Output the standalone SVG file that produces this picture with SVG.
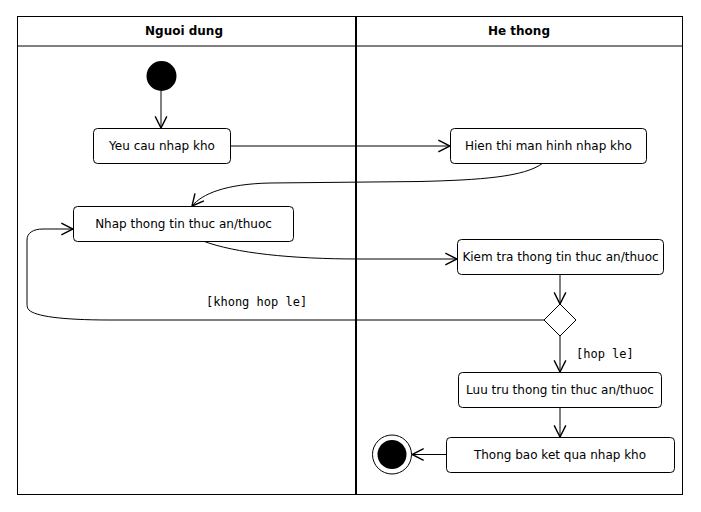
<svg xmlns="http://www.w3.org/2000/svg" width="701" height="512" viewBox="0 0 701 512">
<style>
.lane{fill:none;stroke:#000;stroke-width:1}
.hdr{font-family:"DejaVu Sans",sans-serif;font-size:12px;font-weight:bold;text-anchor:middle;fill:#000}
.box{fill:#fff;stroke:#000;stroke-width:1}
.lbl{font-family:"DejaVu Sans",sans-serif;font-size:12px;text-anchor:middle;fill:#000}
.grd{font-family:"DejaVu Sans Mono",monospace;font-size:12px;fill:#000}
.edge{fill:none;stroke:#000;stroke-width:1;marker-end:url(#arr)}
</style>
<defs>
<marker id="arr" markerUnits="userSpaceOnUse" markerWidth="14" markerHeight="14" viewBox="0 0 12 12" refX="11" refY="6" orient="auto">
<path d="M1,1 L11,6 L1,11" fill="none" stroke="#000" stroke-width="1.2"/>
</marker>
</defs>
<rect width="701" height="512" fill="#fff"/>
<g id="swimlanes">
<rect class="lane" x="17.5" y="16.5" width="665" height="478"/>
<line class="lane" x1="17" y1="46" x2="683" y2="46"/>
<line x1="356" y1="16" x2="356" y2="495" stroke="#000" stroke-width="2"/>
<text class="hdr" x="184" y="35">Nguoi dung</text>
<text class="hdr" x="519" y="35">He thong</text>
</g>
<g id="connectors">
<path class="edge" d="M161,91 L161,128"/>
<path class="edge" d="M230,146 L450,146"/>
<path class="edge" d="M543,163 C525,177 480,180 420,181.5 L270,183 C225,184 202,194 192,206"/>
<path class="edge" d="M203,241 C235,253 290,259 360,259 L457,259"/>
<path class="edge" d="M560,274 L560,304"/>
<path class="edge" d="M544,320 L110,320 C60,320 35,316 29,310 C27,308 27,306 27,302 L27,240 C27,233 33,229 43,229 L73,229"/>
<path class="edge" d="M560,336 L560,372"/>
<path class="edge" d="M560,407 L560,437"/>
<path class="edge" d="M446,454.5 L412,454.5"/>
<text class="grd" x="206" y="306">[khong hop le]</text>
<text class="grd" x="576" y="358">[hop le]</text>
</g>
<g id="start"><circle cx="161.5" cy="76" r="15" fill="#000"/></g>
<g id="yeucau"><rect class="box" x="93.5" y="128.5" width="137" height="35" rx="4"/><text class="lbl" x="162" y="150">Yeu cau nhap kho</text></g>
<g id="hienthi"><rect class="box" x="450.5" y="128.5" width="196" height="35" rx="4"/><text class="lbl" x="548.5" y="150">Hien thi man hinh nhap kho</text></g>
<g id="nhap"><rect class="box" x="73.5" y="206.5" width="220" height="35" rx="4"/><text class="lbl" x="183.5" y="228">Nhap thong tin thuc an/thuoc</text></g>
<g id="kiemtra"><rect class="box" x="457.5" y="239.5" width="206" height="35" rx="4"/><text class="lbl" x="560.5" y="261">Kiem tra thong tin thuc an/thuoc</text></g>
<g id="decision"><polygon points="560,304 576,320 560,336 544,320" fill="#fff" stroke="#000" stroke-width="1"/></g>
<g id="luutru"><rect class="box" x="458.5" y="372.5" width="203" height="35" rx="4"/><text class="lbl" x="560" y="394">Luu tru thong tin thuc an/thuoc</text></g>
<g id="thongbao"><rect class="box" x="446.5" y="437.5" width="228" height="35" rx="4"/><text class="lbl" x="560" y="459">Thong bao ket qua nhap kho</text></g>
<g id="end"><circle cx="392" cy="454.5" r="19.5" fill="#fff" stroke="#000" stroke-width="1"/><circle cx="392" cy="454.5" r="14.5" fill="#000"/></g>
</svg>
